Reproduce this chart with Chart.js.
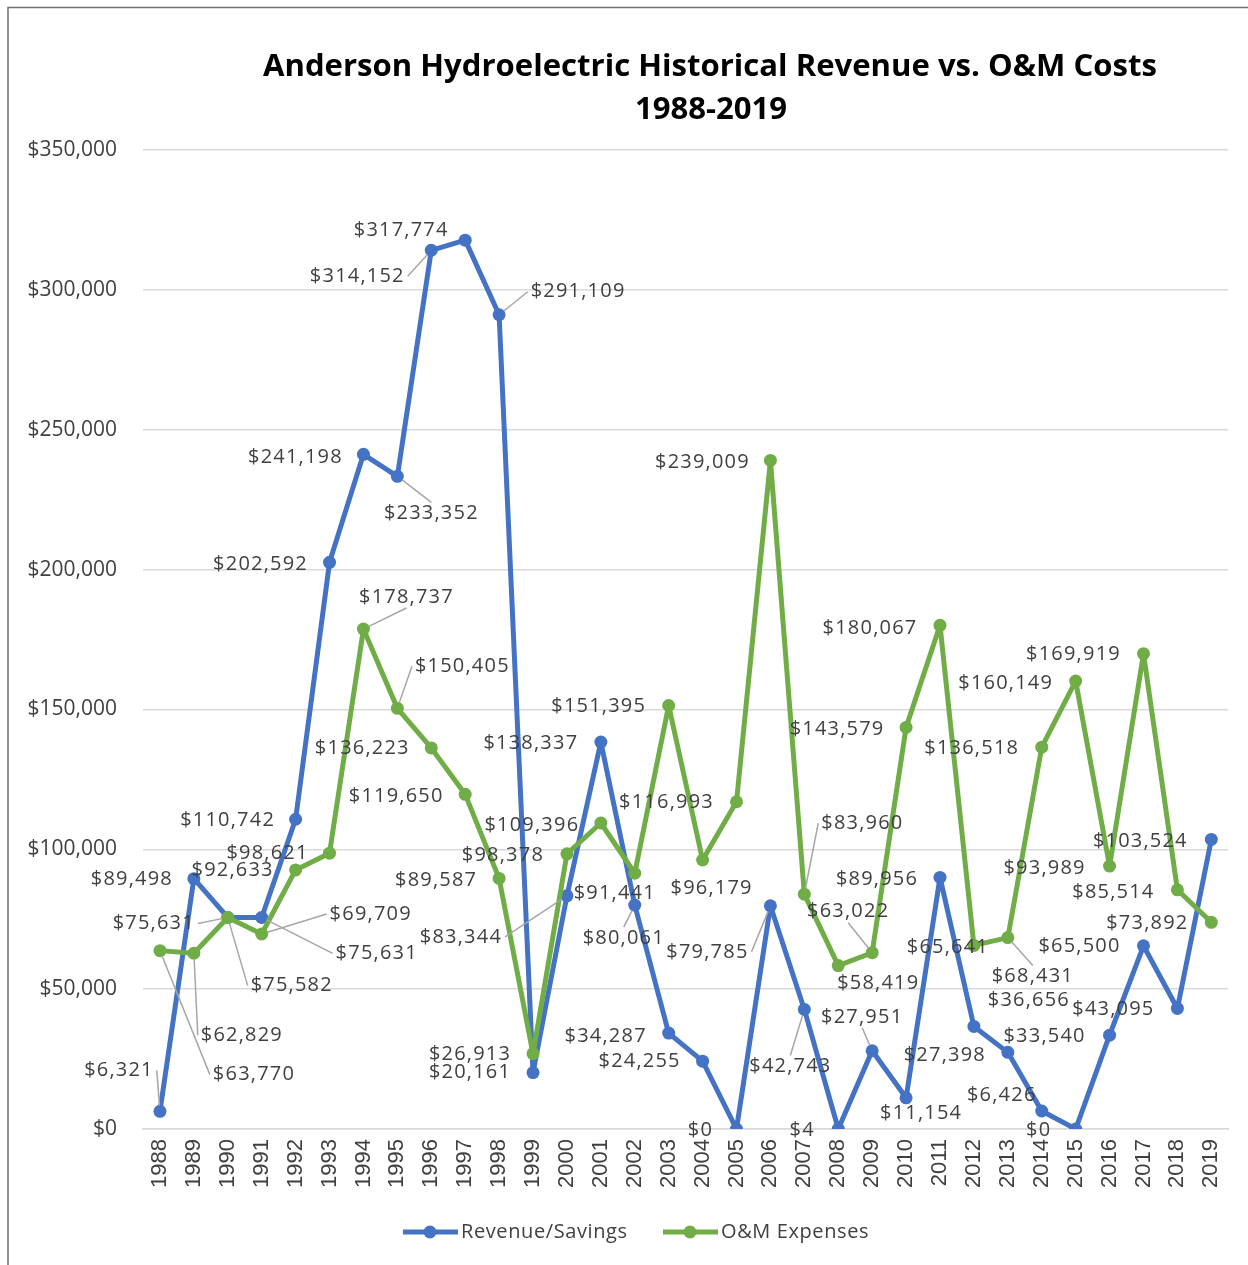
<!DOCTYPE html>
<html>
<head>
<meta charset="utf-8">
<title>Anderson Hydroelectric Historical Revenue vs. O&amp;M Costs</title>
<script src="https://cdn.jsdelivr.net/npm/chart.js@4/dist/chart.umd.min.js"></script>
<style>
  html, body { margin: 0; padding: 0; background: #fff; }
  canvas { display: block; }
</style>
</head>
<body>
<canvas id="histChart" width="1248" height="1265"></canvas>
<script>
// Данные графика
const years = ['1988', '1989', '1990', '1991', '1992', '1993', '1994', '1995', '1996', '1997', '1998',
  '1999', '2000', '2001', '2002', '2003', '2004', '2005', '2006', '2007', '2008', '2009', '2010',
  '2011', '2012', '2013', '2014', '2015', '2016', '2017', '2018', '2019'];

const revenue = [6321, 89498, 75631, 75631, 110742, 202592, 241198, 233352, 314152, 317774, 291109,
  20161, 83344, 138337, 80061, 34287, 24255, 0, 79785, 42743, 4, 27951, 11154,
  89956, 36656, 27398, 6426, 0, 33540, 65500, 43095, 103524];

const omExpenses = [63770, 62829, 75582, 69709, 92633, 98621, 178737, 150405, 136223, 119650, 89587,
  26913, 98378, 109396, 91441, 151395, 96179, 116993, 239009, 83960, 58419, 63022, 143579,
  180067, 65641, 68431, 136518, 160149, 93989, 169919, 85514, 73892];

const yTicks = [0, 50000, 100000, 150000, 200000, 250000, 300000, 350000];

// Смещения подписей относительно точки: [dx, dy, линия-выноска]
const revenueLabelPos = [
  [-41, -41, 1], [-62, 1, 0], [-74, 6, 1], [115, 36, 1], [-68, 1, 0], [-69, 2, 0], [-68, 3, 0],
  [34, 37, 1], [-74, 26, 1], [-64, -10, 0], [79, -23, 1], [-63, 0, 0], [-106, 41, 1], [-70, 1, 0],
  [-11, 33, 1], [-63, 3, 0], [-63, 0, 0], [-36, 1, 0], [-63, 46, 1], [-14, 57, 1], [-36, 1, 0],
  [-10, -34, 1], [15, 15, 0], [-63, 2, 0], [55, -26, 0], [-63, 3, 0], [-40, -16, 0], [-37, 1, 0],
  [-65, 1, 0], [-64, 1, 0], [-64, 1, 0], [-71, 2, 0]
];
const omLabelPos = [
  [94, 124, 1], [48, 82, 1], [64, 68, 1], [109, -20, 1], [-63, 0, 0], [-62, 0, 0], [43, -32, 1],
  [65, -42, 1], [-69, 0, 0], [-69, 2, 0], [-63, 2, 0], [-63, 1, 0], [-64, 1, 0], [-69, 2, 0],
  [-20, 20, 0], [-70, 1, 0], [9, 28, 0], [-70, 1, 0], [-68, 2, 0], [58, -71, 1], [40, 18, 0],
  [-24, -41, 1], [-69, 2, 0], [-70, 3, 0], [-26, 2, 0], [25, 39, 1], [-70, 1, 0], [-70, 2, 0],
  [-65, 2, 0], [-70, 1, 0], [-64, 2, 0], [-64, 1, 0]
];

const BLUE = '#4472C4';
const GREEN = '#70AD47';
const TEXT = '#404040';

const money = (v) => '$' + Number(v).toLocaleString('en-US');

// Заголовок, рамка и легенда
const decorations = {
  id: 'decorations',
  afterDraw(chart) {
    const ctx = chart.ctx;
    ctx.save();

    // рамка (видны только левая и верхняя стороны)
    ctx.strokeStyle = '#707070';
    ctx.lineWidth = 1.5;
    ctx.strokeRect(8, 7.5, 1400, 1400);

    // заголовок
    const line1 = 'Anderson Hydroelectric Historical Revenue vs. O&M Costs';
    ctx.font = 'bold 100px "Open Sans"';
    const size = Math.floor(100 * 895 / ctx.measureText(line1).width * 10) / 10;
    ctx.font = 'bold ' + size + 'px "Open Sans"';
    ctx.fillStyle = '#000';
    ctx.textAlign = 'center';
    ctx.textBaseline = 'alphabetic';
    ctx.fillText(line1, 710, 76);
    ctx.fillText('1988-2019', 711, 119);

    // легенда
    const items = [
      { text: 'Revenue/Savings', color: BLUE, x: 403 },
      { text: 'O&M Expenses', color: GREEN, x: 663 }
    ];
    ctx.font = '20px "Open Sans"';
    ctx.letterSpacing = '0.6px';
    ctx.textAlign = 'left';
    ctx.textBaseline = 'middle';
    items.forEach((it) => {
      const y = 1232;
      ctx.strokeStyle = it.color;
      ctx.lineWidth = 5;
      ctx.beginPath();
      ctx.moveTo(it.x, y);
      ctx.lineTo(it.x + 55, y);
      ctx.stroke();
      ctx.fillStyle = it.color;
      ctx.beginPath();
      ctx.arc(it.x + 27, y, 6.5, 0, Math.PI * 2);
      ctx.fill();
      ctx.fillStyle = TEXT;
      ctx.fillText(it.text, it.x + 58, y);
    });
    ctx.restore();
  }
};

// Подписи значений с линиями-выносками
const dataLabels = {
  id: 'dataLabels',
  afterDatasetsDraw(chart) {
    const ctx = chart.ctx;
    ctx.save();
    ctx.font = '20px "Open Sans"';
    ctx.letterSpacing = '1.2px';
    ctx.textAlign = 'center';
    ctx.textBaseline = 'middle';
    [revenueLabelPos, omLabelPos].forEach((offsets, di) => {
      const meta = chart.getDatasetMeta(di);
      const values = chart.data.datasets[di].data;
      meta.data.forEach((pt, i) => {
        const [dx, dy, leader] = offsets[i];
        const text = money(values[i]);
        const cx = pt.x + dx;
        const cy = pt.y + dy;
        if (leader) {
          const w = ctx.measureText(text).width;
          const h = 16;
          let sx, sy;
          if (pt.x < cx - w / 2) { sx = cx - w / 2 - 3; sy = cy; }
          else if (pt.x > cx + w / 2) { sx = cx + w / 2 + 3; sy = cy; }
          else if (pt.y < cy) { sx = cx; sy = cy - h / 2 - 3; }
          else { sx = cx; sy = cy + h / 2 + 3; }
          const len = Math.hypot(pt.x - sx, pt.y - sy);
          const k = Math.max(0, (len - 6) / len);
          ctx.strokeStyle = '#A6A6A6';
          ctx.lineWidth = 1.5;
          ctx.beginPath();
          ctx.moveTo(sx, sy);
          ctx.lineTo(sx + (pt.x - sx) * k, sy + (pt.y - sy) * k);
          ctx.stroke();
        }
        ctx.fillStyle = TEXT;
        ctx.fillText(text, cx, cy);
      });
    });
    ctx.restore();
  }
};

const histChart = new Chart(document.getElementById('histChart'), {
  type: 'line',
  data: {
    labels: years,
    datasets: [
      {
        label: 'Revenue/Savings',
        data: revenue,
        order: 1,
        borderColor: BLUE,
        backgroundColor: BLUE,
        borderWidth: 5,
        borderJoinStyle: 'round',
        borderCapStyle: 'round',
        pointRadius: 6.5,
        pointBorderWidth: 0,
        pointBackgroundColor: BLUE,
        tension: 0
      },
      {
        label: 'O&M Expenses',
        data: omExpenses,
        order: 0, // зелёная линия поверх синей
        borderColor: GREEN,
        backgroundColor: GREEN,
        borderWidth: 5,
        borderJoinStyle: 'round',
        borderCapStyle: 'round',
        pointRadius: 6.5,
        pointBorderWidth: 0,
        pointBackgroundColor: GREEN,
        tension: 0
      }
    ]
  },
  options: {
    responsive: false,
    animation: false,
    layout: { padding: { left: 0, right: 18, top: 150, bottom: 0 } },
    plugins: {
      legend: { display: false },
      title: { display: false },
      tooltip: { enabled: false }
    },
    scales: {
      x: {
        offset: true,
        grid: { display: false, drawTicks: false },
        border: { display: true, color: '#D9D9D9', width: 1.5 },
        ticks: {
          autoSkip: false,
          minRotation: 90,
          maxRotation: 90,
          padding: 10,
          color: TEXT,
          font: { family: '"Liberation Sans"', size: 22 }
        },
        afterFit: (s) => { s.height = 136; }
      },
      y: {
        min: 0,
        max: 350000,
        afterBuildTicks: (s) => { s.ticks = yTicks.map((v) => ({ value: v })); },
        grid: { color: '#D9D9D9', lineWidth: 1.5, drawTicks: false },
        border: { display: false },
        ticks: {
          padding: 26,
          color: TEXT,
          font: { family: '"Open Sans"', size: 21 },
          callback: (v) => money(v)
        },
        afterFit: (s) => { s.width = 143; }
      }
    }
  },
  plugins: [dataLabels, decorations]
});
</script>
</body>
</html>
